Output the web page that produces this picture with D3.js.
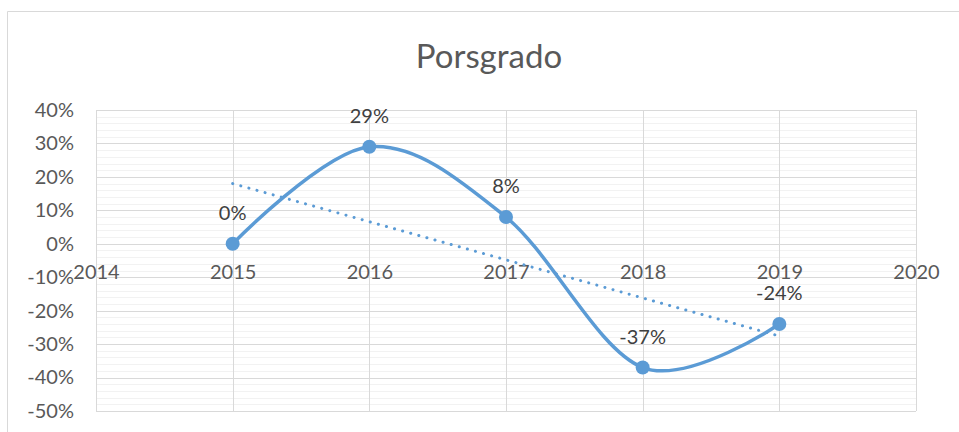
<!DOCTYPE html>
<html>
<head>
<meta charset="utf-8">
<title></title>
<script src="https://d3js.org/d3.v7.min.js"></script>
<style>
body { margin: 0; background: #fff; }
svg { display: block; font-family: Lato, "Open Sans", sans-serif; }
</style>
</head>
<body>
<div id="chart"></div>
<script>
const years = [2015, 2016, 2017, 2018, 2019];
const values = [0, 29, 8, -37, -24];
const labels = ['0%', '29%', '8%', '-37%', '-24%'];
// trendline end points
const trendYears = [2015, 2019];
const trendValues = [18, -27.6];
const xTicks = [2014, 2015, 2016, 2017, 2018, 2019, 2020];
const yTicks = [40, 30, 20, 10, 0, -10, -20, -30, -40, -50];

const W = 959, H = 432;
const margin = { top: 110, right: 43, bottom: 21, left: 96 };
const blue = '#5b9bd5';
const fs = 20;

const svg = d3.select('#chart').append('svg')
    .attr('width', W)
    .attr('height', H);

// outer chart border
svg.append('path')
    .attr('d', `M7.5,${H} V11.5 H${W}`)
    .attr('fill', 'none')
    .attr('stroke', '#d9d9d9')
    .attr('stroke-width', 1);

svg.append('text')
    .attr('x', 489)
    .attr('y', 68)
    .attr('text-anchor', 'middle')
    .attr('fill', '#595959')
    .attr('font-size', 33)
    .text('Porsgrado');

const x = d3.scaleLinear().domain([2014, 2020]).range([margin.left, W - margin.right]);
const y = d3.scaleLinear().domain([-50, 40]).range([H - margin.bottom, margin.top]);

const g = svg.append('g');

// minor horizontal gridlines
g.selectAll('.minor')
    .data(d3.range(-50, 41, 2).filter(v => v % 10 !== 0))
    .join('line')
    .attr('class', 'minor')
    .attr('x1', x(2014)).attr('x2', x(2020))
    .attr('y1', d => Math.round(y(d)) + 0.5).attr('y2', d => Math.round(y(d)) + 0.5)
    .attr('stroke', '#f2f2f2');

// major horizontal gridlines
g.selectAll('.hmajor')
    .data(yTicks)
    .join('line')
    .attr('class', 'hmajor')
    .attr('x1', x(2014)).attr('x2', x(2020))
    .attr('y1', d => Math.round(y(d)) + 0.5).attr('y2', d => Math.round(y(d)) + 0.5)
    .attr('stroke', '#d9d9d9');

// vertical gridlines
g.selectAll('.vmajor')
    .data(xTicks)
    .join('line')
    .attr('class', 'vmajor')
    .attr('x1', d => Math.round(x(d)) + 0.5).attr('x2', d => Math.round(x(d)) + 0.5)
    .attr('y1', y(40)).attr('y2', y(-50))
    .attr('stroke', '#d9d9d9');

// y axis labels
const yAxis = svg.append('g')
    .attr('transform', `translate(${margin.left - 22},0)`)
    .call(d3.axisLeft(y).tickValues(yTicks).tickSize(0).tickPadding(0).tickFormat(d => d + '%'));
yAxis.select('.domain').remove();
yAxis.selectAll('text')
    .attr('fill', '#595959')
    .attr('font-size', fs)
    .attr('font-family', 'Lato, sans-serif');

// x axis labels sit on the 0% line
const xAxis = svg.append('g')
    .attr('transform', `translate(0,${y(0)})`)
    .call(d3.axisBottom(x).tickValues(xTicks).tickSize(0).tickPadding(21).tickFormat(d3.format('d')));
xAxis.select('.domain').remove();
xAxis.selectAll('text')
    .attr('fill', '#595959')
    .attr('font-size', fs)
    .attr('font-family', 'Lato, sans-serif');

// trendline
svg.append('path')
    .datum(trendYears.map((d, i) => [d, trendValues[i]]))
    .attr('d', d3.line().x(d => x(d[0])).y(d => y(d[1])))
    .attr('fill', 'none')
    .attr('stroke', blue)
    .attr('stroke-width', 3)
    .attr('stroke-linecap', 'round')
    .attr('stroke-dasharray', '0.1 8.3');

const pts = years.map((d, i) => ({ year: d, value: values[i], label: labels[i] }));

svg.append('path')
    .datum(pts)
    .attr('d', d3.line().curve(d3.curveCatmullRom.alpha(0)).x(d => x(d.year)).y(d => y(d.value)))
    .attr('fill', 'none')
    .attr('stroke', blue)
    .attr('stroke-width', 3.5)
    .attr('stroke-linecap', 'round');

svg.selectAll('.dot')
    .data(pts)
    .join('circle')
    .attr('class', 'dot')
    .attr('cx', d => x(d.year))
    .attr('cy', d => y(d.value))
    .attr('r', 7)
    .attr('fill', blue);

svg.selectAll('.lbl')
    .data(pts)
    .join('text')
    .attr('class', 'lbl')
    .attr('x', d => x(d.year))
    .attr('y', d => y(d.value) - 24)
    .attr('text-anchor', 'middle')
    .attr('fill', '#404040')
    .attr('font-size', fs)
    .text(d => d.label);
</script>
</body>
</html>
